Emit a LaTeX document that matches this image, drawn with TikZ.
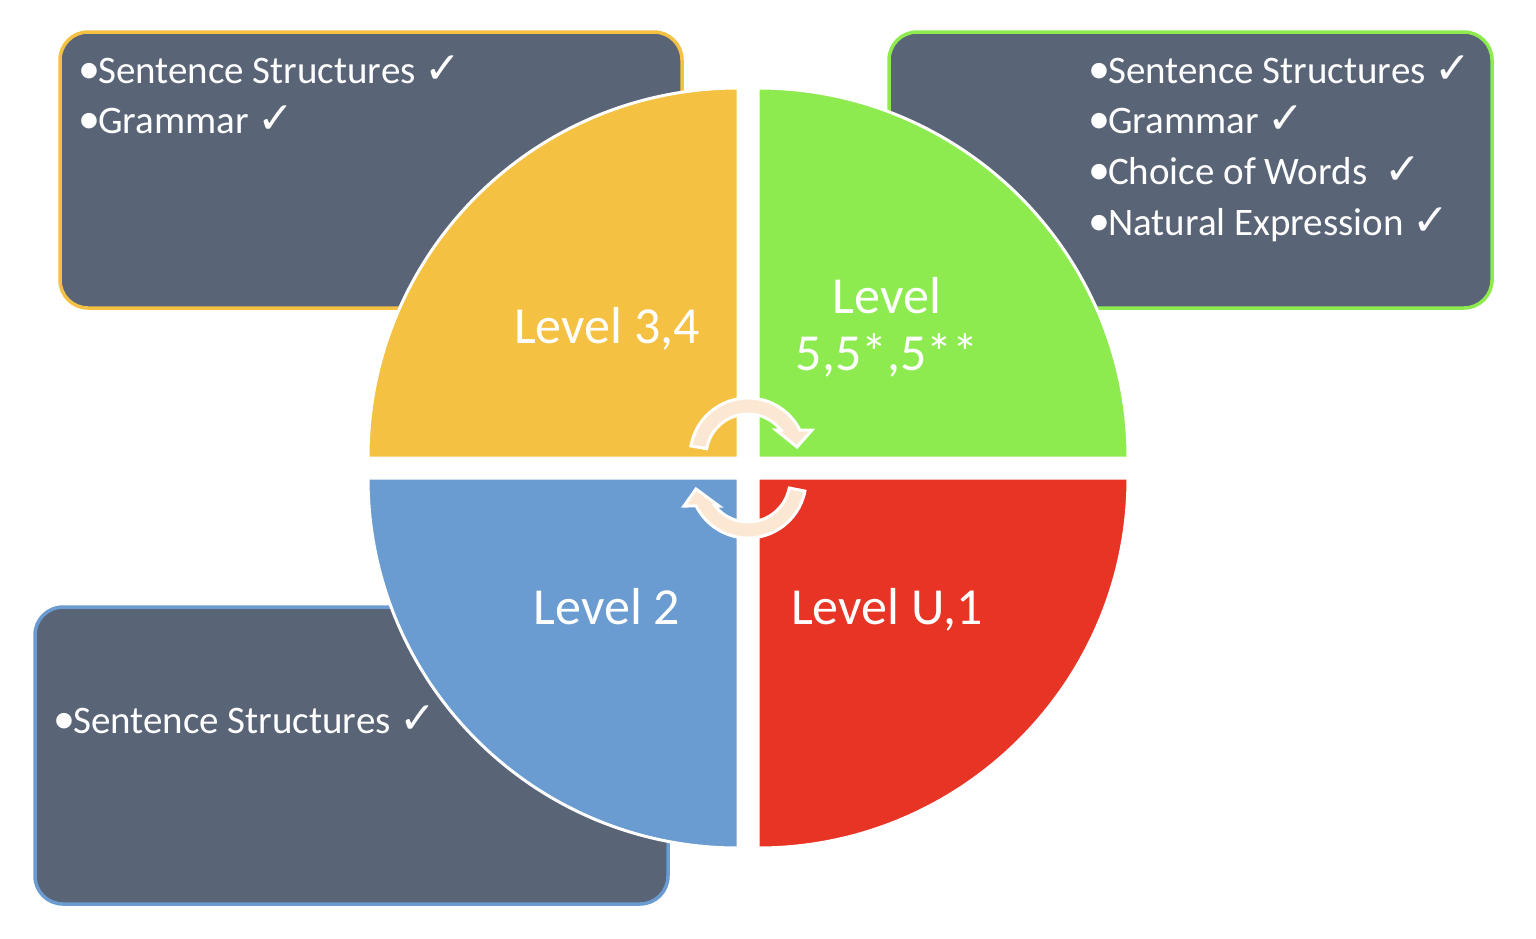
\documentclass[tikz,border=0pt]{standalone}
\usepackage{fontspec}
\setmainfont{Carlito}
\newfontfamily\dejavu{DejaVu Sans}
\definecolor{qorange}{HTML}{F4C142}
\definecolor{qgreen}{HTML}{8DEB50}
\definecolor{qred}{HTML}{E83424}
\definecolor{qblue}{HTML}{6A9BD1}
\definecolor{boxfill}{HTML}{5A6477}
\definecolor{arrfill}{HTML}{FBE7D2}
\newcommand\ckmark{{\dejavu\fontsize{44}{44}\selectfont ✓}}
\newcommand\bul{{\fontsize{44}{44}\selectfont •}\kern-2pt}
\tikzset{
  infobox/.style={rectangle, rounded corners=28pt, fill=boxfill, line width=3.5pt, inner sep=0pt},
  bullettext/.style={anchor=base west, inner sep=0pt, text=white, font=\fontsize{39}{51}\selectfont},
  levellabel/.style={anchor=base, inner sep=0pt, text=white, font=\fontsize{52}{58}\selectfont, align=center},
  quadrant/.style={draw=white, line width=3pt},
  arrowband/.style={fill=arrfill, draw=white, line width=3pt, line join=miter},
}
\begin{document}
\begin{tikzpicture}[x=1pt,y=-1pt]
\useasboundingbox (0,0) rectangle (1536,938);

% info boxes
\node[infobox, draw=qorange, minimum width=622pt, minimum height=276pt] (tlbox) at (371,170) {};
\node[infobox, draw=qgreen, minimum width=603pt, minimum height=276pt] (trbox) at (1190.5,170) {};
\node[infobox, draw=qblue, minimum width=633pt, minimum height=297pt] (blbox) at (351.5,755.5) {};

% quadrants
\fill[qorange, quadrant] (738,458) -- (368,458) arc[start angle=180, end angle=270, radius=370] -- cycle;
\fill[qgreen, quadrant] (758,458) -- (758,88) arc[start angle=270, end angle=360, radius=370] -- cycle;
\fill[qred, quadrant] (758,478) -- (1128,478) arc[start angle=0, end angle=90, radius=370] -- cycle;
\fill[qblue, quadrant] (738,478) -- (738,848) arc[start angle=90, end angle=180, radius=370] -- cycle;

% texts of the boxes
\node[bullettext] (tl1) at (78,83) {\bul Sentence Structures \ckmark};
\node[bullettext] (tl2) at (78,133) {\bul Grammar \ckmark};

\node[bullettext] (tr1) at (1088,83) {\bul Sentence Structures \ckmark};
\node[bullettext] (tr2) at (1088,133) {\bul Grammar \ckmark};
\node[bullettext] (tr3) at (1088,184) {\bul Choice of Words\ \ \ckmark};
\node[bullettext] (tr4) at (1088,235) {\bul Natural Expression \ckmark};

\node[bullettext] (bl1) at (53,733) {\bul Sentence Structures \ckmark};

% level labels
\node[levellabel] (l34) at (607,343) {Level 3,4};
\node[levellabel] (l5a) at (887,313) {Level};
\node[levellabel] (l5b) at (887,370) {5,5*,5**};
\node[levellabel] (l2) at (607,624) {Level 2};
\node[levellabel] (lu1) at (887,624) {Level U,1};

% circular arrows
\coordinate (ct) at (748,456);
\coordinate (cb) at (748,480);
\path[arrowband] ([shift={(190:58)}]ct) arc[start angle=190, end angle=333.4, radius=58]
  -- (812,430) -- (797,447) -- (776,430)
  -- ([shift={(321.8:42)}]ct) arc[start angle=321.8, end angle=190, radius=42] -- cycle;
\path[arrowband] ([shift={(11:58)}]cb) arc[start angle=11, end angle=153.4, radius=58]
  -- (684,506) -- (696,489) -- (719,506)
  -- ([shift={(141.8:42)}]cb) arc[start angle=141.8, end angle=11, radius=42] -- cycle;
\end{tikzpicture}
\end{document}
